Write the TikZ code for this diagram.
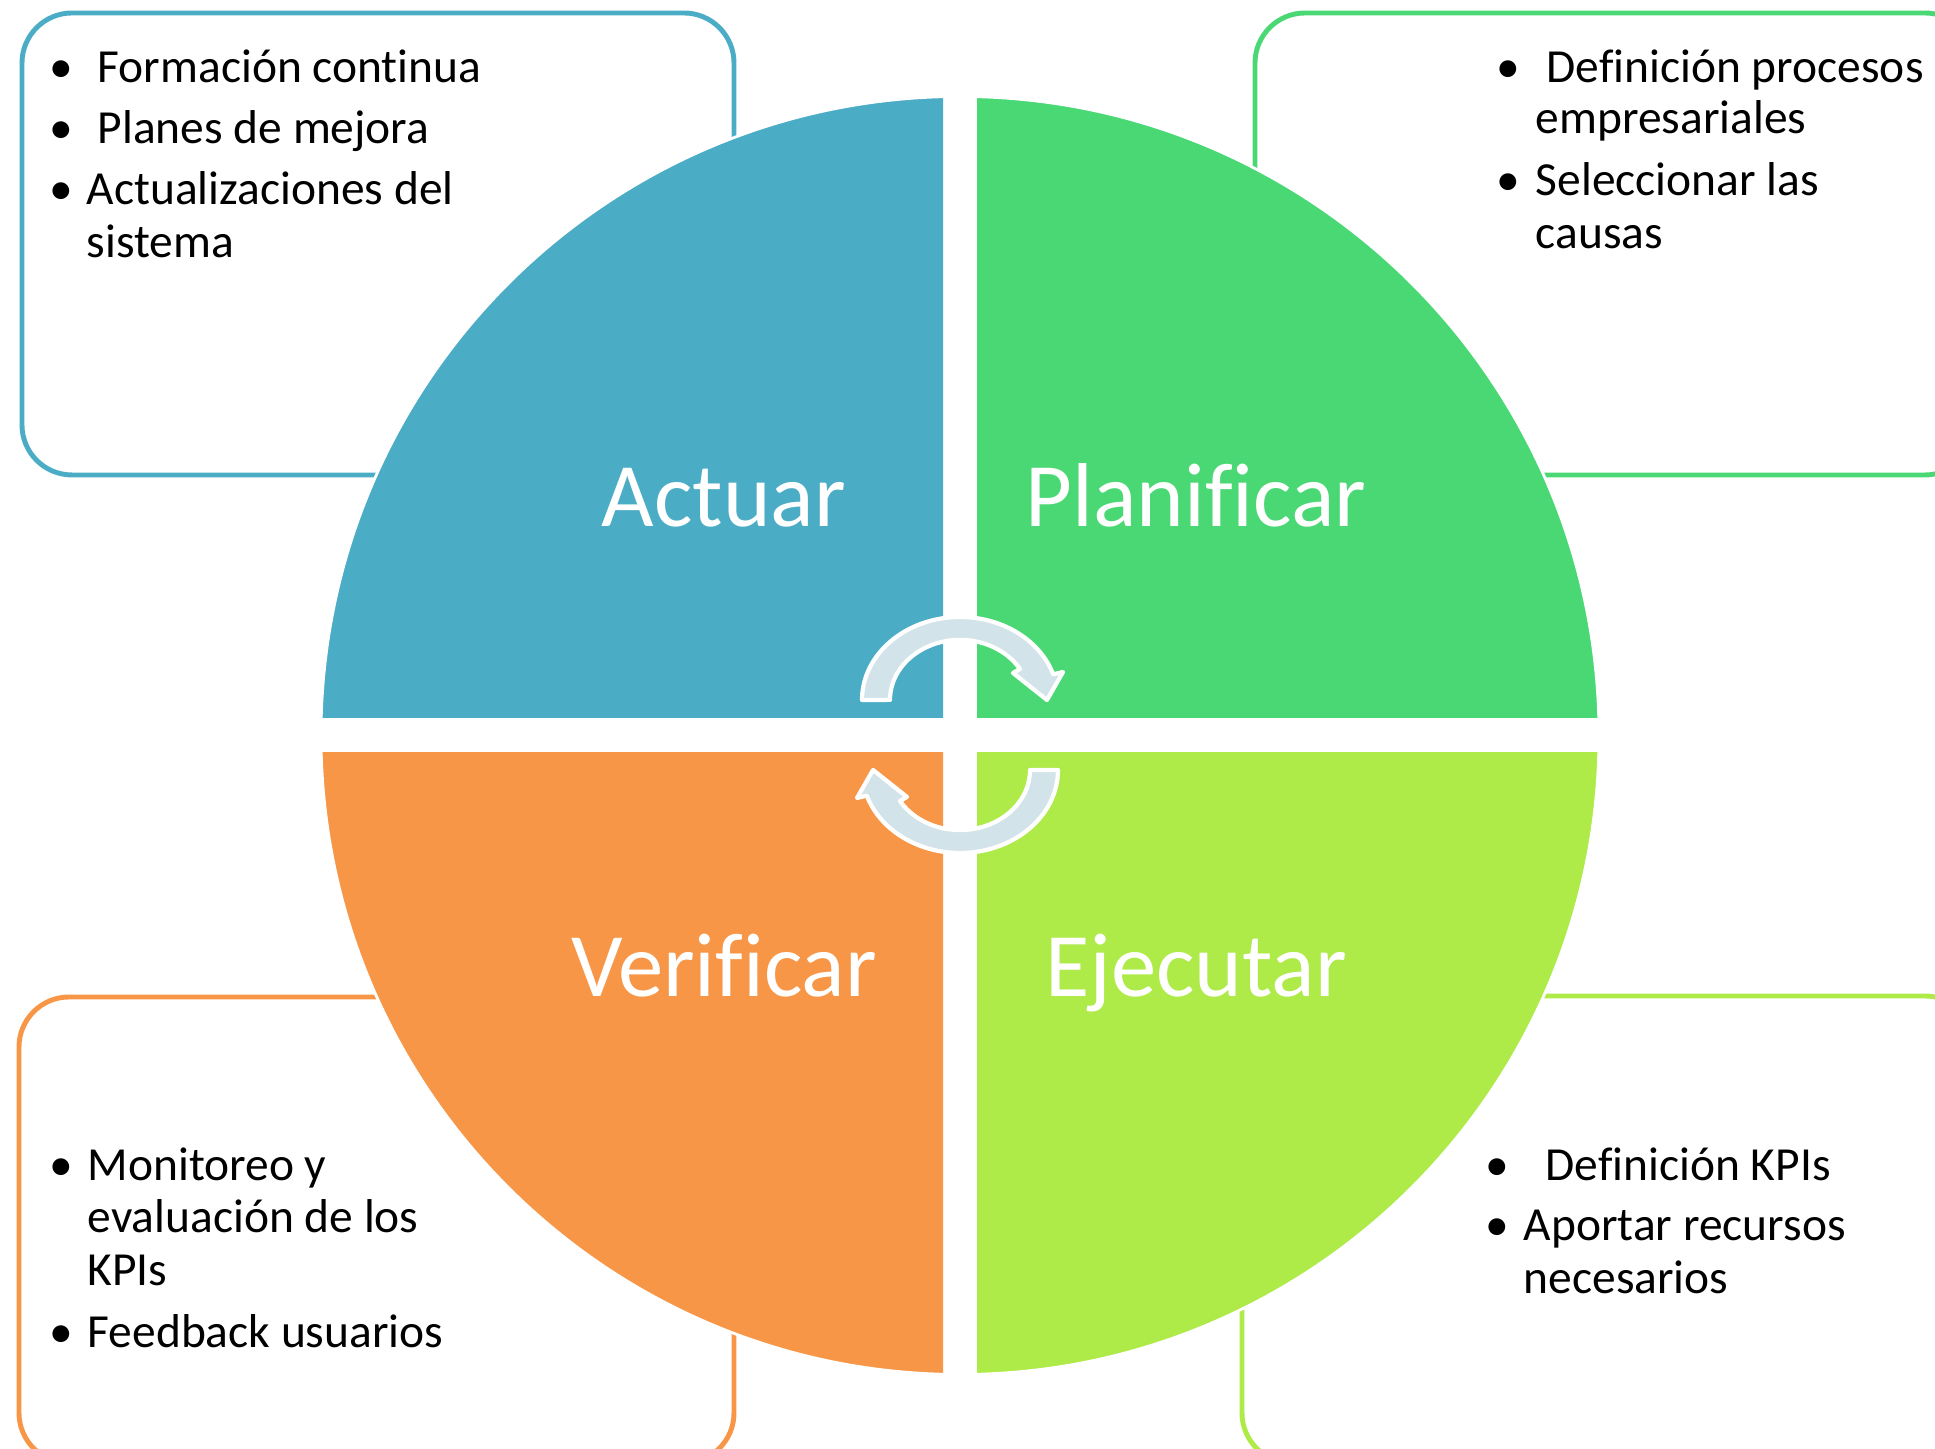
\documentclass[tikz,border=0pt]{standalone}
\usepackage{fontspec}
\setmainfont{Carlito}[Ligatures=NoCommon]
\definecolor{azulq}{RGB}{75,172,198}
\definecolor{verdeq}{RGB}{74,216,117}
\definecolor{naranjaq}{RGB}{247,150,70}
\definecolor{limaq}{RGB}{174,234,72}
\definecolor{flechaq}{RGB}{210,227,234}
\begin{document}
\begin{tikzpicture}[x=0.01cm,y=0.01cm,
    caja/.style={rounded corners=0.5cm, line width=1.4pt},
    cuarto/.style={draw=white, line width=0.8pt},
    fase/.style={text=white, anchor=base, inner sep=0pt, font=\fontsize{25.8}{32}\selectfont},
    punto/.style={anchor=base, inner sep=0pt, font=\fontsize{13.5}{16}\selectfont},
    linea/.style={anchor=base west, inner sep=0pt, font=\fontsize{13.5}{16}\selectfont},
    flecha/.style={fill=flechaq, draw=white, line width=1.2pt, line join=round}]
                \clip (0,0) rectangle (1935,1449) ;
                \coordinate (c) at (960,713.5) ;
                \draw [caja, azulq] (22,974) rectangle (734,1436) ;
                \draw [caja, verdeq] (1255,974) rectangle (1975,1436) ;
                \draw [caja, naranjaq] (19,-14) rectangle (734,452) ;
                \draw [caja, limaq] (1242,-14) rectangle (1975,453) ;
                \begin{scope}
                \clip (250,731) rectangle (943,1400) ;
                \path [fill=azulq, cuarto] (c) circle (639) ;
                \end{scope}
                \begin{scope}
                \clip (977,731) rectangle (1670,1400) ;
                \path [fill=verdeq, cuarto] (c) circle (639) ;
                \end{scope}
                \begin{scope}
                \clip (250,0) rectangle (943,696) ;
                \path [fill=naranjaq, cuarto] (c) circle (639) ;
                \end{scope}
                \begin{scope}
                \clip (977,0) rectangle (1670,696) ;
                \path [fill=limaq, cuarto] (c) circle (639) ;
                \end{scope}
                \draw (724,922) node [fase] (actuar) {Actuar} ;
                \draw (1196,922) node [fase] (planificar) {Planificar} ;
                \draw (724,452) node [fase] (verificar) {Verificar} ;
                \draw (1196,452) node [fase] (ejecutar) {Ejecutar} ;
                \begin{scope}[shift={(960,749)}]
                \draw [flecha] (-98,0) arc [start angle=180, end angle=18, x radius=98, y radius=83] -- (103,28) -- (87,0) -- (53,27) -- (60,31) arc [start angle=31, end angle=180, x radius=70, y radius=60] -- cycle ;
                \end{scope}
                \begin{scope}[shift={(960,679)}, rotate=180]
                \draw [flecha] (-98,0) arc [start angle=180, end angle=18, x radius=98, y radius=83] -- (103,28) -- (87,0) -- (53,27) -- (60,31) arc [start angle=31, end angle=180, x radius=70, y radius=60] -- cycle ;
                \end{scope}
                \draw (61,1366) node [punto] (pA1) {\textbullet} ;
                \draw (97,1366) node [linea] (tA1) {Formación continua} ;
                \draw (61,1305) node [punto] (pA2) {\textbullet} ;
                \draw (97,1305) node [linea] (tA2) {Planes de mejora} ;
                \draw (61,1244) node [punto] (pA3) {\textbullet} ;
                \draw (86,1244) node [linea] (tA3) {Actualizaciones del} ;
                \draw (86,1191) node [linea] (tA4) {sistema} ;
                \draw (1508,1366) node [punto] (pP1) {\textbullet} ;
                \draw (1546,1366) node [linea] (tP1) {Definición procesos} ;
                \draw (1535,1315) node [linea] (tP2) {empresariales} ;
                \draw (1508,1253) node [punto] (pP2) {\textbullet} ;
                \draw (1535,1253) node [linea] (tP3) {Seleccionar las} ;
                \draw (1535,1200) node [linea] (tP4) {causas} ;
                \draw (61,268) node [punto] (pV1) {\textbullet} ;
                \draw (87,268) node [linea] (tV1) {Monitoreo y} ;
                \draw (87,216) node [linea] (tV2) {evaluación de los} ;
                \draw (87,163) node [linea] (tV3) {KPIs} ;
                \draw (61,101) node [punto] (pV2) {\textbullet} ;
                \draw (87,101) node [linea] (tV4) {Feedback usuarios} ;
                \draw (1497,268) node [punto] (pE1) {\textbullet} ;
                \draw (1545,268) node [linea] (tE1) {Definición KPIs} ;
                \draw (1497,208) node [punto] (pE2) {\textbullet} ;
                \draw (1523,208) node [linea] (tE2) {Aportar recursos} ;
                \draw (1523,155) node [linea] (tE3) {necesarios} ;
\end{tikzpicture}
\end{document}
